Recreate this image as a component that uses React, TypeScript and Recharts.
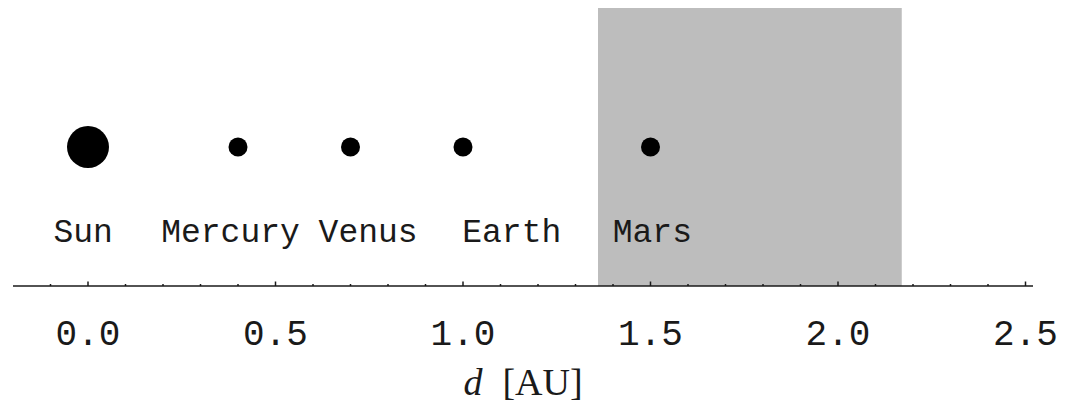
import { ScatterChart, Scatter, XAxis, YAxis, ReferenceArea } from "recharts";

// planets and their distance from the sun [AU]
const BODIES = ["Sun", "Mercury", "Venus", "Earth", "Mars"];
const DISTANCE = [0.0, 0.4, 0.7, 1.0, 1.5];
// where each name sits along the axis
const LABEL_AT = [-0.013, 0.38, 0.747, 1.13, 1.505];

// shaded zone
const ZONE_FROM = 1.36;
const ZONE_TO = 2.17;

const X_DOMAIN = [-0.2, 2.52];
const X_TICKS = [
  -0.1, 0.0, 0.1, 0.2, 0.3, 0.4, 0.5, 0.6, 0.7, 0.8, 0.9, 1.0, 1.1, 1.2, 1.3,
  1.4, 1.5, 1.6, 1.7, 1.8, 1.9, 2.0, 2.1, 2.2, 2.3, 2.4, 2.5,
];

const dots = BODIES.map((name, i) => ({ name, x: DISTANCE[i], y: 0.5 }));
const names = BODIES.map((name, i) => ({ name, x: LABEL_AT[i], y: 0.16 }));

const MONO = "'Liberation Mono', 'DejaVu Sans Mono', monospace";
const SERIF = "'Liberation Serif', 'DejaVu Serif', serif";
const INK = "#1a1a1a";

function Dot(props: any) {
  const { cx, cy, payload } = props;
  const r = payload.name === "Sun" ? 21 : 9.5;
  return <circle cx={cx} cy={cy} r={r} fill="#000" />;
}

function Name(props: any) {
  const { cx, cy, payload } = props;
  return (
    <text x={cx} y={cy} textAnchor="middle" fontFamily={MONO} fontSize={33} fill={INK}>
      {payload.name}
    </text>
  );
}

function Tick(props: any) {
  const { x, y, payload } = props;
  const v = payload.value;
  const major = Math.abs(v * 2 - Math.round(v * 2)) < 1e-6;
  return (
    <g>
      <line x1={x} x2={x} y1={y} y2={y - (major ? 4.5 : 2)} stroke={INK} strokeWidth={1.5} />
      {major && (
        <text x={x} y={y + 59} textAnchor="middle" fontFamily={MONO} fontSize={36} fill={INK}>
          {v.toFixed(1)}
        </text>
      )}
    </g>
  );
}

function AxisTitle(props: any) {
  const vb = props.viewBox || {};
  const cx = vb.x + vb.width / 2;
  return (
    <text x={cx} y={vb.y + 109} textAnchor="middle" fontFamily={SERIF} fontSize={38} fill={INK}>
      <tspan fontStyle="italic">d</tspan>
      <tspan dx={20}>[AU]</tspan>
    </text>
  );
}

export default function App() {
  return (
    <div style={{ position: "absolute", left: 0, top: 0, background: "#fff" }}>
      <ScatterChart width={1068} height={404} margin={{ top: 8, right: 35, left: 13, bottom: 0 }}>
        <XAxis
          type="number"
          dataKey="x"
          domain={X_DOMAIN}
          allowDataOverflow
          ticks={X_TICKS}
          interval={0}
          tickSize={0}
          tickMargin={0}
          tickLine={false}
          tick={<Tick />}
          height={118}
          stroke={INK}
          strokeWidth={1.5}
          label={<AxisTitle />}
        />
        <YAxis type="number" dataKey="y" domain={[0, 1]} hide />
        <ReferenceArea x1={ZONE_FROM} x2={ZONE_TO} y1={0} y2={1} fill="#bdbdbd" fillOpacity={1} stroke="none" />
        <Scatter data={dots} shape={<Dot />} isAnimationActive={false} />
        <Scatter data={names} shape={<Name />} isAnimationActive={false} />
      </ScatterChart>
    </div>
  );
}
